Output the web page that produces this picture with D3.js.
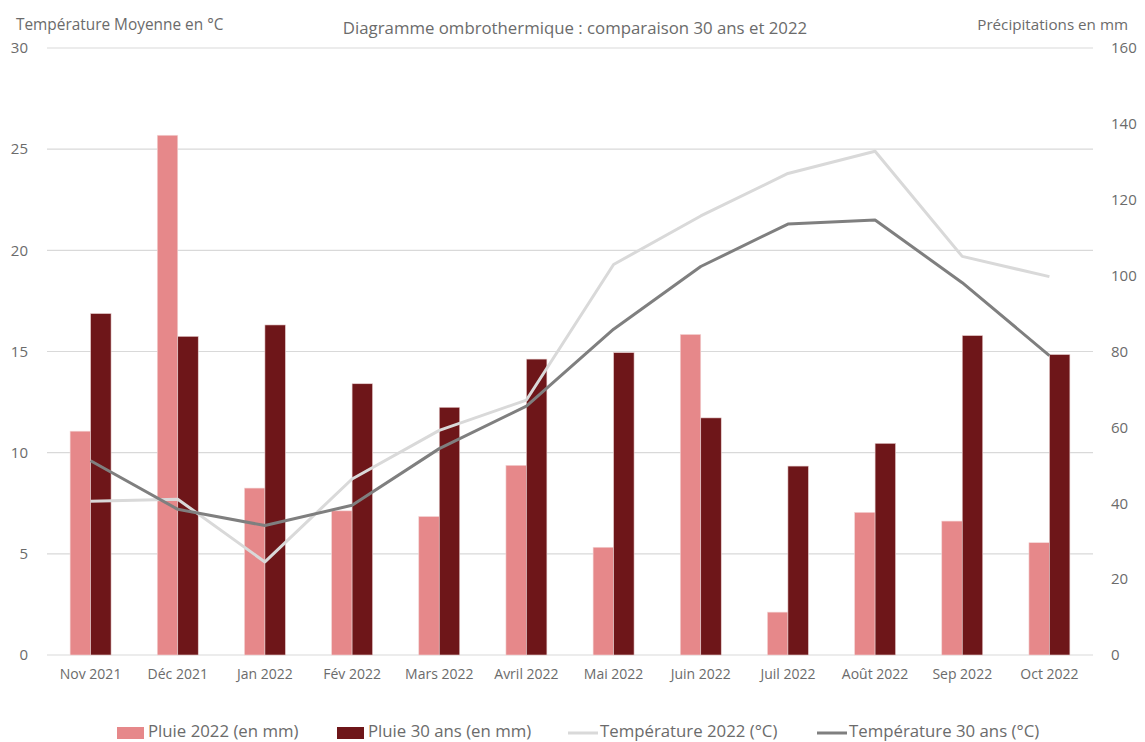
<!DOCTYPE html>
<html>
<head>
<meta charset="utf-8">
<script src="https://cdn.jsdelivr.net/npm/d3@7"></script>
<style>
  body { margin: 0; background: #fff; }
  text { font-family: "Open Sans", sans-serif; fill: #6b6b6b; }
</style>
</head>
<body>
<div id="graphicContainer"></div>
<script>
var months = ["Nov 2021", "Déc 2021", "Jan 2022", "Fév 2022", "Mars 2022", "Avril 2022",
	"Mai 2022", "Juin 2022", "Juil 2022", "Août 2022", "Sep 2022", "Oct 2022"]
var pluie2022 = [59, 137, 44, 38, 36.5, 50, 28.4, 84.5, 11.3, 37.6, 35.3, 29.6]
var pluie30 = [90, 84, 87, 71.5, 65.3, 78, 79.7, 62.5, 49.8, 55.8, 84.2, 79.2]
var temp2022 = [7.6, 7.7, 4.6, 8.7, 11.1, 12.6, 19.3, 21.7, 23.8, 24.9, 19.7, 18.7]
var temp30 = [9.6, 7.2, 6.4, 7.4, 10.2, 12.3, 16.1, 19.2, 21.3, 21.5, 18.4, 14.8]
var tempTicks = [0, 5, 10, 15, 20, 25, 30]
var pluieTicks = [0, 20, 40, 60, 80, 100, 120, 140, 160]

var width = 1145, height = 742
var margin = {top: 48, right: 52, bottom: 87, left: 47}

var svg = d3.select("#graphicContainer").append("svg")
	.attr("width", width)
	.attr("height", height)

var x = d3.scaleBand()
	.domain(months)
	.range([margin.left, width - margin.right])
	.paddingInner(0.53)
	.paddingOuter(0.265)

var x1 = d3.scaleBand()
	.domain(["p22", "p30"])
	.range([0, x.bandwidth()])

var yT = d3.scaleLinear().domain([0, 30]).range([height - margin.bottom, margin.top])
var yP = d3.scaleLinear().domain([0, 160]).range([height - margin.bottom, margin.top])

// gridlines
svg.append("g")
	.selectAll("line")
	.data(tempTicks)
	.enter()
	.append("line")
	.attr("x1", margin.left)
	.attr("x2", width - margin.right)
	.attr("y1", d => yT(d))
	.attr("y2", d => yT(d))
	.attr("stroke", "#d9d9d9")
	.attr("stroke-width", 1.2)

// left axis
var leftAxis = svg.append("g")
	.attr("transform", "translate(" + margin.left + ",0)")
	.call(d3.axisLeft(yT).tickValues(tempTicks).tickSize(0).tickPadding(19))
leftAxis.select(".domain").remove()
leftAxis.selectAll("text").attr("font-size", 15).style("font-family", "Open Sans").attr("fill", "#6b6b6b")

// right axis
var rightAxis = svg.append("g")
	.attr("transform", "translate(" + (width - margin.right) + ",0)")
	.call(d3.axisRight(yP).tickValues(pluieTicks).tickSize(0).tickPadding(18))
rightAxis.select(".domain").remove()
rightAxis.selectAll("text").attr("font-size", 15).style("font-family", "Open Sans").attr("fill", "#6b6b6b")

// x axis
var xAxis = svg.append("g")
	.attr("transform", "translate(0," + (height - margin.bottom) + ")")
	.call(d3.axisBottom(x).tickSize(0).tickPadding(14))
xAxis.select(".domain").remove()
xAxis.selectAll("text").attr("font-size", 14).style("font-family", "Open Sans").attr("fill", "#6b6b6b")

// bars
var groups = svg.append("g")
	.selectAll("g")
	.data(months)
	.enter()
	.append("g")
	.attr("transform", d => "translate(" + x(d) + ",0)")

groups.append("rect")
	.attr("x", x1("p22"))
	.attr("width", x1.bandwidth())
	.attr("y", (d, i) => yP(pluie2022[i]))
	.attr("height", (d, i) => yP(0) - yP(pluie2022[i]))
	.attr("fill", "#e6888a")
	.attr("stroke", "#f3d6d6")
	.attr("stroke-width", 0.6)

groups.append("rect")
	.attr("x", x1("p30"))
	.attr("width", x1.bandwidth())
	.attr("y", (d, i) => yP(pluie30[i]))
	.attr("height", (d, i) => yP(0) - yP(pluie30[i]))
	.attr("fill", "#6e1619")
	.attr("stroke", "#e8d0d0")
	.attr("stroke-width", 0.6)

// temperature lines
var line = d3.line()
	.x((d, i) => x(months[i]) + x.bandwidth() / 2)
	.y(d => yT(d))

svg.append("path")
	.datum(temp2022)
	.attr("d", line)
	.attr("fill", "none")
	.attr("stroke", "#d9d9d9")
	.attr("stroke-width", 3)
	.attr("stroke-linejoin", "round")

svg.append("path")
	.datum(temp30)
	.attr("d", line)
	.attr("fill", "none")
	.attr("stroke", "#7f7f7f")
	.attr("stroke-width", 3)
	.attr("stroke-linejoin", "round")

// titles
svg.append("text")
	.attr("x", 16).attr("y", 30)
	.attr("font-size", 15.4)
	.text("Température Moyenne en °C")

svg.append("text")
	.attr("x", 1128).attr("y", 30)
	.attr("text-anchor", "end")
	.attr("font-size", 15.2)
	.text("Précipitations en mm")

svg.append("text")
	.attr("x", 575).attr("y", 34)
	.attr("text-anchor", "middle")
	.attr("font-size", 16.8)
	.text("Diagramme ombrothermique : comparaison 30 ans et 2022")

// legend
var legendItems = [
	{label: "Pluie 2022 (en mm)", type: "rect", color: "#e6888a", x: 117},
	{label: "Pluie 30 ans (en mm)", type: "rect", color: "#6e1619", x: 337},
	{label: "Température 2022 (°C)", type: "line", color: "#d9d9d9", x: 568},
	{label: "Température 30 ans (°C)", type: "line", color: "#7f7f7f", x: 817}
]

var legend = svg.append("g")
legendItems.forEach(function (d) {
	if (d.type == "rect") {
		legend.append("rect")
			.attr("x", d.x).attr("y", 727)
			.attr("width", 27).attr("height", 12)
			.attr("fill", d.color)
	} else {
		legend.append("line")
			.attr("x1", d.x).attr("x2", d.x + 30)
			.attr("y1", 733).attr("y2", 733)
			.attr("stroke", d.color)
			.attr("stroke-width", 3)
	}
	legend.append("text")
		.attr("x", d.x + (d.type == "rect" ? 31 : 32))
		.attr("y", 737)
		.attr("font-size", 16.8)
		.text(d.label)
})
</script>
</body>
</html>
